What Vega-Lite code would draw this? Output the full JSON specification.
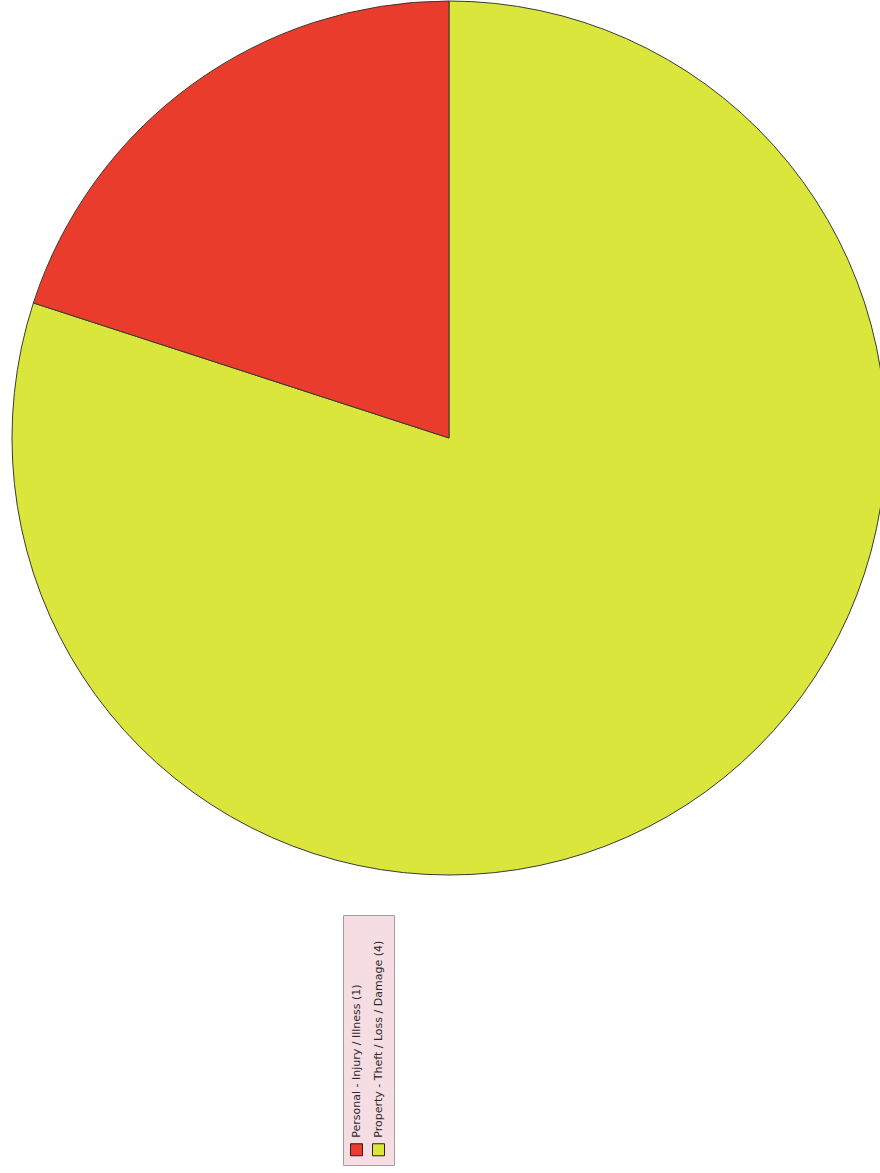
{
  "$schema": "https://vega.github.io/schema/vega-lite/v6.json",
  "width": 880,
  "height": 876,
  "autosize": {"type": "none"},
  "padding": {"left": 0, "top": 0, "right": 0, "bottom": 297},
  "background": "white",
  "data": {
    "values": [
      {"category": "Property - Theft / Loss / Damage (4)", "count": 4, "ord": 1},
      {"category": "Personal - Injury / Illness (1)", "count": 1, "ord": 2}
    ]
  },
  "mark": {"type": "arc", "outerRadius": 437, "xOffset": 9, "stroke": "#3a3a2e", "strokeWidth": 1},
  "encoding": {
    "theta": {"field": "count", "type": "quantitative", "stack": true},
    "order": {"field": "ord", "type": "quantitative"},
    "color": {
      "field": "category",
      "type": "nominal",
      "scale": {
        "domain": ["Personal - Injury / Illness (1)", "Property - Theft / Loss / Damage (4)"],
        "range": ["#e93c2d", "#dae63c"]
      },
      "legend": {
        "orient": "none",
        "legendX": 343,
        "legendY": 915,
        "direction": "horizontal",
        "title": " ",
        "titleFontSize": 10,
        "titlePadding": 211,
        "padding": 7,
        "fillColor": "#f6dce3",
        "strokeColor": "#a0a0a0",
        "symbolType": "square",
        "symbolSize": 144,
        "symbolStrokeColor": "#222222",
        "symbolStrokeWidth": 1,
        "symbolOpacity": 1,
        "labelFont": "DejaVu Sans",
        "labelFontSize": 11,
        "labelColor": "#2a2a2a",
        "labelOffset": 0,
        "labelAlign": "left",
        "labelBaseline": "middle",
        "labelLimit": 400,
        "columnPadding": 5,
        "encoding": {
          "labels": {
            "angle": {"value": 270},
            "dx": {"value": 12},
            "dy": {"value": -6}
          }
        }
      }
    }
  },
  "config": {"view": {"stroke": null}}
}
